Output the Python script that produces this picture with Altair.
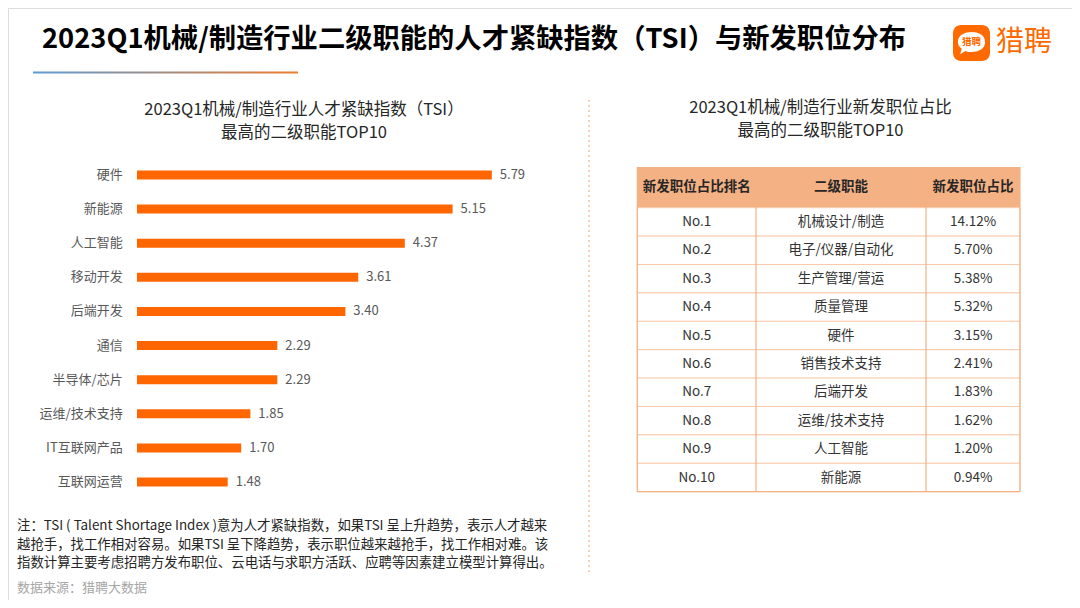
import altair as alt
import pandas as pd

# ---------------- data ----------------
tsi_cats = ["硬件", "新能源", "人工智能", "移动开发", "后端开发", "通信",
            "半导体/芯片", "运维/技术支持", "IT互联网产品", "互联网运营"]
tsi_vals = [5.79, 5.15, 4.37, 3.61, 3.40, 2.29, 2.29, 1.85, 1.70, 1.48]

ranks = ["No.1", "No.2", "No.3", "No.4", "No.5", "No.6", "No.7", "No.8", "No.9", "No.10"]
funcs = ["机械设计/制造", "电子/仪器/自动化", "生产管理/营运", "质量管理", "硬件",
         "销售技术支持", "后端开发", "运维/技术支持", "人工智能", "新能源"]
shares = [14.12, 5.70, 5.38, 5.32, 3.15, 2.41, 1.83, 1.62, 1.20, 0.94]
headers = ["新发职位占比排名", "二级职能", "新发职位占比"]

title = "2023Q1机械/制造行业二级职能的人才紧缺指数（TSI）与新发职位分布"
left_sub = ["2023Q1机械/制造行业人才紧缺指数（TSI）", "最高的二级职能TOP10"]
right_sub = ["2023Q1机械/制造行业新发职位占比", "最高的二级职能TOP10"]
notes = [
    "注：TSI ( Talent Shortage Index )意为人才紧缺指数，如果TSI 呈上升趋势，表示人才越来",
    "越抢手，找工作相对容易。如果TSI 呈下降趋势，表示职位越来越抢手，找工作相对难。该",
    "指数计算主要考虑招聘方发布职位、云电话与求职方活跃、应聘等因素建立模型计算得出。",
]
source = "数据来源：猎聘大数据"

FONT = "Noto Sans CJK SC"
ORANGE = "#FF6600"

one = pd.DataFrame({"k": [0]})


def text_layer(txt, x, y, size, color="#333333", weight="normal", align="left", font=FONT):
    return alt.Chart(pd.DataFrame({"t": [txt]})).mark_text(
        align=align, baseline="middle", fontSize=size, color=color,
        fontWeight=weight, font=font
    ).encode(text="t:N", x=alt.value(x), y=alt.value(y))


layers = []

# title + gradient underline
layers.append(text_layer(title, 34, 32, 27.3, "#000000", "bold"))
layers.append(alt.Chart(one).mark_rect(
    fill=alt.Gradient(gradient="linear",
                      stops=[alt.GradientStop(color="#5B9BD5", offset=0),
                             alt.GradientStop(color="#ED7D31", offset=1)],
                      x1=0, x2=1, y1=0, y2=0)
).encode(x=alt.value(25), x2=alt.value(290), y=alt.value(63.5), y2=alt.value(65.5)))

# logo
layers.append(alt.Chart(one).mark_rect(fill="#FF6A00", cornerRadius=8).encode(
    x=alt.value(945), x2=alt.value(982), y=alt.value(17), y2=alt.value(53)))
bubble = ("M0,-0.7 C0.6,-0.7 0.95,-0.4 0.95,0 C0.95,0.4 0.6,0.7 0,0.7 "
          "C-0.15,0.7 -0.3,0.68 -0.42,0.62 L-0.8,0.85 L-0.68,0.48 "
          "C-0.86,0.35 -0.95,0.18 -0.95,0 C-0.95,-0.4 -0.6,-0.7 0,-0.7 Z")
layers.append(alt.Chart(one).mark_point(shape=bubble, filled=True, fill="white",
                                        opacity=1, size=820, strokeWidth=0).encode(
    x=alt.value(963.5), y=alt.value(34)))
layers.append(text_layer("猎聘", 963.5, 34, 9.5, "#FF6A00", "bold", "center"))
layers.append(text_layer("猎聘", 988, 35, 28, "#FF6A00", "normal", "left"))

# subtitles
layers.append(text_layer(left_sub[0], 296, 102, 16.5, "#262626", align="center"))
layers.append(text_layer(left_sub[1], 296, 125, 16.5, "#262626", align="center"))
layers.append(text_layer(right_sub[0], 812.5, 100, 16.5, "#262626", align="center"))
layers.append(text_layer(right_sub[1], 812.5, 123, 16.5, "#262626", align="center"))

# divider
layers.append(alt.Chart(one).mark_rule(color="#F4A070", strokeDash=[2, 3], strokeWidth=1).encode(
    x=alt.value(581), y=alt.value(92), y2=alt.value(566)))

# ---------------- bar chart ----------------
tsi_df = pd.DataFrame({"cat": tsi_cats, "v": tsi_vals})
xs = alt.Scale(domain=[0, 6], range=[129, 496.7], nice=False, zero=True)
ys = alt.Scale(domain=tsi_cats, range=[149.94, 491.06], paddingInner=0, paddingOuter=0)
base = alt.Chart(tsi_df)
layers.append(base.mark_bar(size=9, color=ORANGE).encode(
    x=alt.X("v:Q", scale=xs, axis=None),
    y=alt.Y("cat:N", sort=tsi_cats, scale=ys, axis=None)))
layers.append(base.mark_text(align="right", baseline="middle", fontSize=13,
                             color="#595959", font=FONT).encode(
    x=alt.value(114.7),
    y=alt.Y("cat:N", sort=tsi_cats, scale=ys, axis=None),
    text="cat:N"))
layers.append(base.mark_text(align="left", baseline="middle", fontSize=13, dx=8,
                             color="#595959", font=FONT).encode(
    x=alt.X("v:Q", scale=xs, axis=None),
    y=alt.Y("cat:N", sort=tsi_cats, scale=ys, axis=None),
    text=alt.Text("v:Q", format=".2f")))

# ---------------- table ----------------
TL, TR = 629.3, 1012
HT, HB, TB = 159, 199.7, 483.7
col_edges = [TL, 748, 918, TR]
col_centers = [(col_edges[i] + col_edges[i + 1]) / 2 for i in range(3)]

tab_df = pd.DataFrame({"rank": ranks, "func": funcs, "share": shares})
ty = alt.Scale(domain=ranks, range=[HB, TB], paddingInner=0, paddingOuter=0)
tb = alt.Chart(tab_df).transform_calculate(
    share_txt="format(datum.share, '.2f') + '%'")

# header
layers.append(alt.Chart(one).mark_rect(fill="#F4B183").encode(
    x=alt.value(TL), x2=alt.value(TR), y=alt.value(HT), y2=alt.value(HB)))
for h, cx in zip(headers, col_centers):
    layers.append(text_layer(h, cx, (HT + HB) / 2, 13.5, "#262626", "bold", "center"))

# row backgrounds with horizontal lines
layers.append(tb.mark_rect(fill="white", stroke="#F8CBAD", strokeWidth=1).encode(
    x=alt.value(TL), x2=alt.value(TR),
    y=alt.Y("rank:N", sort=ranks, scale=ty, axis=None)))

# vertical lines and outer border
for ex in col_edges:
    layers.append(alt.Chart(one).mark_rule(color="#F4B183", strokeWidth=1.2).encode(
        x=alt.value(ex), y=alt.value(HT), y2=alt.value(TB)))
layers.append(alt.Chart(one).mark_rule(color="#F4B183", strokeWidth=1.2).encode(
    x=alt.value(TL), x2=alt.value(TR), y=alt.value(TB)))

for field, cx in zip(["rank", "func", "share_txt"], col_centers):
    layers.append(tb.mark_text(align="center", baseline="middle", fontSize=13.5,
                               color="#333333", font=FONT).encode(
        x=alt.value(cx),
        y=alt.Y("rank:N", sort=ranks, scale=ty, axis=None),
        text=f"{field}:N"))

# ---------------- footnotes ----------------
for line, yy in zip(notes, [518, 537, 555]):
    layers.append(text_layer(line, 9, yy, 13.4, "#262626"))
layers.append(text_layer(source, 9, 580, 13, "#A6A6A6"))

chart = alt.layer(*layers).resolve_scale(
    x="independent", y="independent"
).properties(
    width=1064, height=592, padding=0,
    autosize=alt.AutoSizeParams(type="none")
).configure_view(stroke=None).configure(background="white")

chart.save("out.html", embed_options={"renderer": "svg", "actions": False})
